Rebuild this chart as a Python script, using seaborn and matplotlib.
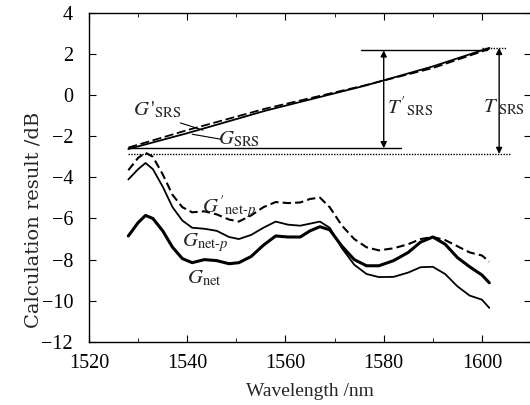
import numpy as np
import pandas as pd
import seaborn as sns
import matplotlib.pyplot as plt

# wavelength grid (nm) for the net gain curves
wl = [1528, 1530, 1531.5, 1533, 1535, 1537, 1539, 1541, 1543.5, 1546, 1548.5, 1550.5,
      1553, 1555.5, 1558, 1560.5, 1563, 1565, 1567, 1569, 1571.5, 1574, 1576.5, 1579,
      1582, 1585, 1587.5, 1590, 1592.5, 1595, 1597.5, 1600, 1601.5]
g_net_p_prime = [-3.65, -3.05, -2.8, -3.0, -3.85, -4.85, -5.45, -5.7, -5.65, -5.8, -6.05, -6.15,
                 -5.85, -5.45, -5.2, -5.25, -5.22, -5.05, -4.98, -5.45, -6.35, -7.0, -7.4, -7.55,
                 -7.45, -7.25, -7.0, -6.9, -7.05, -7.35, -7.65, -7.8, -8.1]
g_net_p = [-4.1, -3.6, -3.3, -3.6, -4.45, -5.45, -6.1, -6.45, -6.5, -6.6, -6.9, -7.0,
           -6.8, -6.45, -6.15, -6.3, -6.35, -6.25, -6.15, -6.45, -7.45, -8.25, -8.7, -8.85,
           -8.84, -8.63, -8.37, -8.35, -8.7, -9.3, -9.75, -9.95, -10.35]
g_net = [-6.85, -6.2, -5.85, -6.0, -6.6, -7.4, -7.95, -8.15, -8.0, -8.05, -8.2, -8.15,
         -7.85, -7.3, -6.85, -6.9, -6.9, -6.6, -6.4, -6.55, -7.35, -8.0, -8.3, -8.3,
         -8.05, -7.65, -7.15, -6.9, -7.25, -7.9, -8.35, -8.75, -9.13]

# SRS tilt curves
wl_srs = [1528, 1540, 1556, 1576, 1590, 1601.5]
g_srs = [-2.62, -1.85, -0.75, 0.45, 1.4, 2.3]
g_srs_prime = [-2.55, -1.7, -0.65, 0.47, 1.32, 2.25]

sns.set_style('ticks')
plt.rcParams['font.family'] = ['Liberation Serif', 'DejaVu Serif']
plt.rcParams['mathtext.fontset'] = 'stix'
plt.rcParams['xtick.direction'] = 'in'
plt.rcParams['ytick.direction'] = 'in'

fig = plt.figure(figsize=(5.3, 4.05), dpi=100)
ax = fig.add_axes([0.168, 0.156, 0.834, 0.812])

df = pd.DataFrame({'wl': wl, 'gp2': g_net_p_prime, 'gp': g_net_p, 'g': g_net})
sns.lineplot(data=df, x='wl', y='gp2', ax=ax, color='black', lw=1.5,
             linestyle=(0, (4, 2)))
sns.lineplot(data=df, x='wl', y='gp', ax=ax, color='black', lw=1.3)
sns.lineplot(data=df, x='wl', y='g', ax=ax, color='black', lw=2.2)

srs = pd.DataFrame({'wl': wl_srs, 'g': g_srs, 'g2': g_srs_prime})
sns.lineplot(data=srs, x='wl', y='g', ax=ax, color='black', lw=1.3)
sns.lineplot(data=srs, x='wl', y='g2', ax=ax, color='black', lw=1.3, linestyle=(0, (5, 2)))

# reference levels for the tilt
ax.plot([1575.3, 1601], [2.18, 2.18], color='black', lw=1)
ax.plot([1600, 1605], [2.3, 2.3], color='black', lw=1, linestyle=(0, (1, 1)))
ax.plot([1528, 1583.6], [-2.58, -2.58], color='black', lw=1)
ax.plot([1528, 1606], [-2.86, -2.86], color='black', lw=1, linestyle=(0, (1, 1)))

arw = dict(arrowstyle='<|-|>', color='black', lw=1, mutation_scale=9, shrinkA=0, shrinkB=0)
ax.annotate('', xy=(1580, 2.18), xytext=(1580, -2.58), arrowprops=arw)
ax.annotate('', xy=(1603.5, 2.3), xytext=(1603.5, -2.86), arrowprops=arw)

fs = 15
ax.text(1580.6, -0.6, r"$T'_{\mathrm{SRS}}$", fontsize=fs, va='center')
ax.text(1600.2, -0.6, r"$T_{\ \mathrm{SRS}}$", fontsize=fs, va='center')
ax.text(1529, -0.7, r"$G\,'_{\mathrm{SRS}}$", fontsize=fs, va='center')
ax.plot([1538.6, 1543.2], [-1.35, -1.7], color='black', lw=0.8)
ax.text(1546.3, -2.15, r"$G_{\mathrm{SRS}}$", fontsize=fs, va='center')
ax.plot([1541, 1547], [-1.9, -2.15], color='black', lw=0.8)
ax.text(1543, -5.45, r"$G'_{\mathrm{net}\text{-}p}$", fontsize=fs, va='center')
ax.text(1539, -7.15, r"$G_{\mathrm{net}\text{-}p}$", fontsize=fs, va='center')
ax.text(1540, -8.9, r"$G_{\mathrm{net}}$", fontsize=fs, va='center')

ax.set_xlim(1520, 1610)
ax.set_ylim(-12, 4)
ax.set_xticks([1520, 1540, 1560, 1580, 1600])
ax.set_xticks([1530, 1550, 1570, 1590], minor=True)
ax.set_yticks(range(-12, 5, 2))
ax.tick_params(which='both', top=True, right=True, labelsize=14.5, colors='black')
ax.tick_params(which='major', length=5, width=0.8)
ax.tick_params(which='minor', length=3, width=0.6)
ax.tick_params(axis='x', which='major', pad=9)
ax.tick_params(axis='y', which='major', pad=11.5)
for s in ax.spines.values():
    s.set_linewidth(1)
    s.set_color('black')
ax.set_xlabel('Wavelength /nm', fontsize=14)
ax.set_ylabel('Calculation result /dB', fontsize=14, family='DejaVu Serif')
ax.xaxis.set_label_coords(0.5, -0.125)
ax.yaxis.set_label_coords(-0.105, 0.37)

fig.savefig('out.png', dpi=100)
